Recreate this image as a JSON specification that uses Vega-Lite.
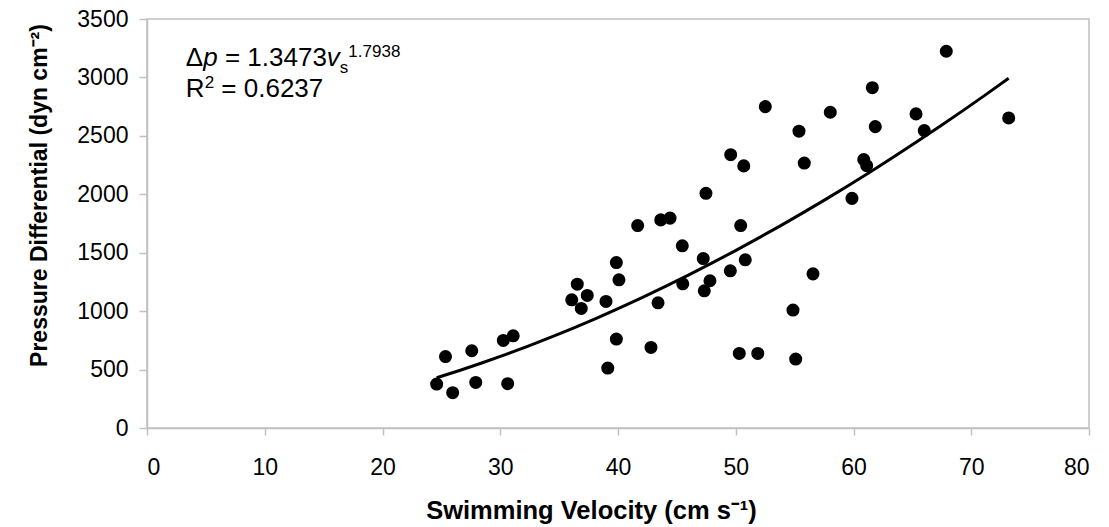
{
  "$schema": "https://vega.github.io/schema/vega-lite/v6.json",
  "width": 942,
  "height": 409,
  "autosize": "none",
  "padding": {"left": 147, "top": 19, "right": 20, "bottom": 99},
  "background": "white",
  "config": {
    "font": "Liberation Sans",
    "view": {"stroke": "#c0c0c0", "strokeWidth": 1.5},
    "axis": {
      "grid": false,
      "domainColor": "#c0c0c0",
      "domainWidth": 1.5,
      "tickColor": "#c0c0c0",
      "tickWidth": 1.5,
      "labelFont": "Liberation Sans",
      "labelFontSize": 23,
      "labelColor": "#000000",
      "titleFont": "Liberation Sans",
      "titleFontWeight": "bold",
      "titleColor": "#000000"
    }
  },
  "data": {
    "values": [
      {"v": 24.6, "dp": 376}, {"v": 25.35, "dp": 611}, {"v": 25.96, "dp": 302},
      {"v": 27.58, "dp": 661}, {"v": 27.92, "dp": 390}, {"v": 30.26, "dp": 749},
      {"v": 31.1, "dp": 789}, {"v": 30.63, "dp": 379}, {"v": 36.54, "dp": 1231},
      {"v": 36.07, "dp": 1097}, {"v": 37.39, "dp": 1134}, {"v": 36.88, "dp": 1023},
      {"v": 38.98, "dp": 1083}, {"v": 39.86, "dp": 1416}, {"v": 40.08, "dp": 1268},
      {"v": 39.86, "dp": 761}, {"v": 39.13, "dp": 513}, {"v": 41.67, "dp": 1732},
      {"v": 43.63, "dp": 1781}, {"v": 44.42, "dp": 1796}, {"v": 45.46, "dp": 1559},
      {"v": 43.4, "dp": 1071}, {"v": 42.8, "dp": 689}, {"v": 45.5, "dp": 1234},
      {"v": 47.24, "dp": 1450}, {"v": 47.81, "dp": 1260}, {"v": 47.33, "dp": 1174},
      {"v": 49.54, "dp": 1345}, {"v": 50.42, "dp": 1732}, {"v": 50.81, "dp": 1439},
      {"v": 50.3, "dp": 638}, {"v": 51.87, "dp": 638}, {"v": 47.47, "dp": 2008},
      {"v": 49.57, "dp": 2339}, {"v": 50.68, "dp": 2243}, {"v": 52.51, "dp": 2750},
      {"v": 55.37, "dp": 2540}, {"v": 55.82, "dp": 2267}, {"v": 58.03, "dp": 2702},
      {"v": 56.56, "dp": 1319}, {"v": 54.86, "dp": 1009}, {"v": 55.09, "dp": 590},
      {"v": 59.87, "dp": 1965}, {"v": 60.87, "dp": 2297}, {"v": 61.12, "dp": 2245},
      {"v": 61.6, "dp": 2912}, {"v": 61.85, "dp": 2579}, {"v": 65.31, "dp": 2688},
      {"v": 66.01, "dp": 2545}, {"v": 67.88, "dp": 3224}, {"v": 73.18, "dp": 2653}
    ]
  },
  "layer": [
    {
      "mark": {"type": "circle", "size": 170, "color": "#000000", "opacity": 1},
      "encoding": {
        "x": {
          "field": "v", "type": "quantitative",
          "scale": {"domain": [0, 80], "nice": false, "zero": false},
          "axis": {
            "values": [0, 10, 20, 30, 40, 50, 60, 70, 80],
            "format": "d",
            "tickSize": 7, "labelPadding": 21,
            "title": "Swimming Velocity (cm s⁻¹)",
            "titleFontSize": 25.5, "titlePadding": 19, "titleX": 444
          }
        },
        "y": {
          "field": "dp", "type": "quantitative",
          "scale": {"domain": [0, 3500], "nice": false},
          "axis": {
            "values": [0, 500, 1000, 1500, 2000, 2500, 3000, 3500],
            "format": "d",
            "tickSize": 8, "labelPadding": 11,
            "title": "Pressure Differential (dyn cm⁻²)",
            "titleFontSize": 23, "titlePadding": 25, "titleY": 176
          }
        }
      }
    },
    {
      "transform": [{"regression": "dp", "on": "v", "method": "pow"}],
      "mark": {"type": "line", "color": "#000000", "strokeWidth": 3},
      "encoding": {
        "x": {"field": "v", "type": "quantitative"},
        "y": {"field": "dp", "type": "quantitative"}
      }
    },
    {
      "data": {"values": [{}]},
      "mark": {"type": "text", "text": "Δ", "fontSize": 26, "align": "left", "baseline": "alphabetic", "color": "#000000"},
      "encoding": {"x": {"datum": 3.3, "type": "quantitative"}, "y": {"datum": 3100, "type": "quantitative"}}
    },
    {
      "data": {"values": [{}]},
      "mark": {"type": "text", "text": "p", "fontStyle": "italic", "fontSize": 26, "align": "left", "baseline": "alphabetic", "dx": 17.4, "color": "#000000"},
      "encoding": {"x": {"datum": 3.3, "type": "quantitative"}, "y": {"datum": 3100, "type": "quantitative"}}
    },
    {
      "data": {"values": [{}]},
      "mark": {"type": "text", "text": "= 1.3473", "fontSize": 26, "align": "left", "baseline": "alphabetic", "dx": 39.1, "color": "#000000"},
      "encoding": {"x": {"datum": 3.3, "type": "quantitative"}, "y": {"datum": 3100, "type": "quantitative"}}
    },
    {
      "data": {"values": [{}]},
      "mark": {"type": "text", "text": "v", "fontStyle": "italic", "fontSize": 26, "align": "left", "baseline": "alphabetic", "dx": 141, "color": "#000000"},
      "encoding": {"x": {"datum": 3.3, "type": "quantitative"}, "y": {"datum": 3100, "type": "quantitative"}}
    },
    {
      "data": {"values": [{}]},
      "mark": {"type": "text", "text": "s", "fontSize": 17, "align": "left", "baseline": "alphabetic", "dx": 154, "dy": 7, "color": "#000000"},
      "encoding": {"x": {"datum": 3.3, "type": "quantitative"}, "y": {"datum": 3100, "type": "quantitative"}}
    },
    {
      "data": {"values": [{}]},
      "mark": {"type": "text", "text": "1.7938", "fontSize": 17, "align": "left", "baseline": "alphabetic", "dx": 162.5, "dy": -9, "color": "#000000"},
      "encoding": {"x": {"datum": 3.3, "type": "quantitative"}, "y": {"datum": 3100, "type": "quantitative"}}
    },
    {
      "data": {"values": [{}]},
      "mark": {"type": "text", "text": "R", "fontSize": 26, "align": "left", "baseline": "alphabetic", "color": "#000000"},
      "encoding": {"x": {"datum": 3.3, "type": "quantitative"}, "y": {"datum": 2830, "type": "quantitative"}}
    },
    {
      "data": {"values": [{}]},
      "mark": {"type": "text", "text": "2", "fontSize": 17, "align": "left", "baseline": "alphabetic", "dx": 18.8, "dy": -9, "color": "#000000"},
      "encoding": {"x": {"datum": 3.3, "type": "quantitative"}, "y": {"datum": 2830, "type": "quantitative"}}
    },
    {
      "data": {"values": [{}]},
      "mark": {"type": "text", "text": "= 0.6237", "fontSize": 26, "align": "left", "baseline": "alphabetic", "dx": 35.5, "color": "#000000"},
      "encoding": {"x": {"datum": 3.3, "type": "quantitative"}, "y": {"datum": 2830, "type": "quantitative"}}
    }
  ]
}
